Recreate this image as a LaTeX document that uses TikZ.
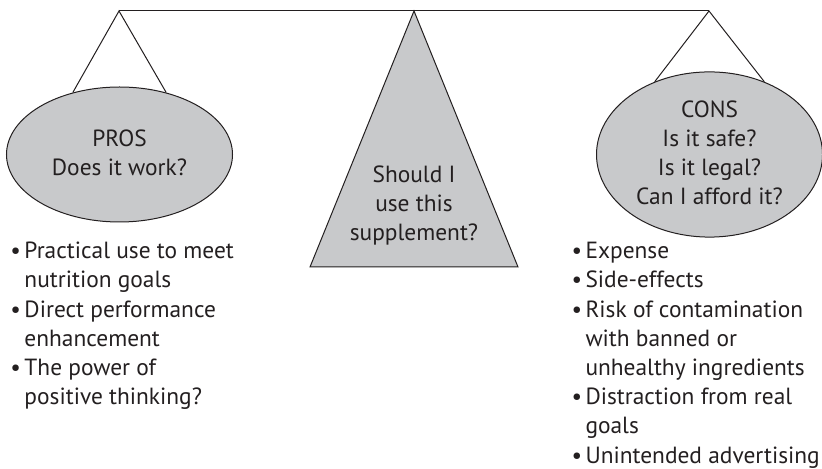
\documentclass[tikz,border=0pt]{standalone}
\usepackage{fontspec}
\setmainfont{PT Sans}
\usetikzlibrary{shapes.geometric}
\definecolor{pangray}{HTML}{C8C9CB}
\definecolor{ink}{HTML}{231F20}
\newcommand{\rowstrut}{\rule[-4pt]{0pt}{14.6pt}}
\newcommand{\bl}{\rowstrut\makebox[7pt][l]{\textbullet}}
\newcommand{\ind}{\rowstrut\hspace*{7pt}}

\begin{document}
\fontsize{11.7}{14.6}\selectfont
\begin{tikzpicture}[x=0.5pt,y=-0.5pt,line width=0.5pt,color=ink,
  scalepan/.style={ellipse, draw, fill=pangray, minimum width=113pt, minimum height=67.5pt, inner sep=0pt, align=center},
  prolist/.style={anchor=north west, inner sep=0pt, align=left}]
\useasboundingbox (0,0) rectangle (822,469);
\coordinate (lhook) at (119,11);
\coordinate (rhook) at (709,11);
\coordinate (apex) at (414,11);
\coordinate (footl) at (310,267);
\coordinate (footr) at (518,267);

\draw[fill=pangray] (apex) -- (footr) -- (footl) -- cycle;
\draw (lhook) -- (rhook);
\node[align=center, inner sep=0pt] (ask) at (414,205) {\rowstrut Should I\\\rowstrut use this\\\rowstrut supplement?};

\node[scalepan] (pros) at (119.5,154.5) {\rowstrut PROS\\\rowstrut Does it work?};
\node[scalepan] (cons) at (709.5,154.5) {\rowstrut CONS\\\rowstrut Is it safe?\\\rowstrut Is it legal?\\\rowstrut Can I afford it?};
\draw (pros.127) -- (lhook) -- (pros.53);
\draw (cons.127) -- (rhook) -- (cons.53);

\node[prolist] (prolist) at (10,237) {\bl Practical use to meet\\ \ind nutrition goals\\ \bl Direct performance\\ \ind enhancement\\ \bl The power of\\ \ind positive thinking?};
\node[prolist] (conlist) at (571,237) {\bl Expense\\ \bl Side-effects\\ \bl Risk of contamination\\ \ind with banned or\\ \ind unhealthy ingredients\\ \bl Distraction from real\\ \ind goals\\ \bl Unintended advertising};
\end{tikzpicture}
\end{document}
